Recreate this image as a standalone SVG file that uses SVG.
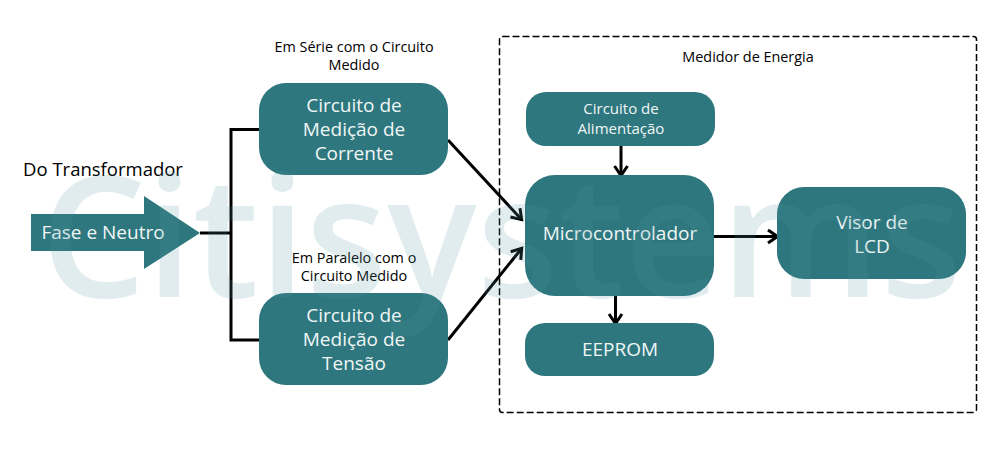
<svg xmlns="http://www.w3.org/2000/svg" width="1000" height="450" viewBox="0 0 1000 450">
<style>
text{font-family:"Open Sans","Noto Sans","Liberation Sans",sans-serif;text-anchor:middle}
.box{fill:#2e777e}
.w{fill:#f0f6f6}
.big{font-size:19px}
.lbl{font-size:14.400px;fill:#000}
.ln{fill:none;stroke:#000;stroke-width:3}
.ar{fill:none;stroke:#000;stroke-width:3;marker-end:url(#a)}
</style>
<defs>
<marker id="a" markerUnits="userSpaceOnUse" markerWidth="18" markerHeight="18" refX="15" refY="9" orient="auto">
<path d="M5 2.5L14.5 9L5 15.5" fill="none" stroke="#000" stroke-width="3"/>
</marker>
</defs>
<rect width="1000" height="450" fill="#fff"/>
<rect id="frame" x="499.500" y="36.500" width="477" height="376" rx="3" fill="none" stroke="#000" stroke-width="1.500" stroke-dasharray="7 3"/>
<g id="connectors">
<path class="ln" d="M200 233H231M260 129.500H231V340H260"/>
<path class="ar" d="M448 140L522 220"/>
<path class="ar" d="M448 340L522 248"/>
<path class="ar" d="M621 146V176"/>
<path class="ar" d="M714 236.500H778"/>
<path class="ar" d="M615.500 295V324"/>
</g>
<g id="transformador"><text x="103" y="176" font-size="18.500" fill="#000">Do Transformador</text></g>
<g id="fase"><path class="box" d="M31 214H144V196L200 233L144 269V251H31Z"/><text class="w" x="103" y="239" font-size="19">Fase e Neutro</text></g>
<g id="corrente"><rect class="box" x="259" y="83" width="189" height="92" rx="27"/>
<text class="w big" x="354" y="112">Circuito de</text><text class="w big" x="354" y="136">Medição de</text><text class="w big" x="354" y="160">Corrente</text></g>
<g id="tensao"><rect class="box" x="259" y="293" width="189" height="92" rx="27"/>
<text class="w big" x="354" y="322">Circuito de</text><text class="w big" x="354" y="346">Medição de</text><text class="w big" x="354" y="370">Tensão</text></g>
<g id="serie"><text class="lbl" x="354" y="52">Em Série com o Circuito</text><text class="lbl" x="354" y="70">Medido</text></g>
<g id="paralelo"><text class="lbl" x="354" y="263">Em Paralelo com o</text><text class="lbl" x="354" y="281">Circuito Medido</text></g>
<g id="medidor"><text class="lbl" x="748" y="62">Medidor de Energia</text></g>
<g id="alimentacao"><rect class="box" x="526" y="92" width="189" height="54" rx="20"/>
<text class="w" x="621" y="114" font-size="15">Circuito de</text><text class="w" x="621" y="134" font-size="15">Alimentação</text></g>
<g id="micro"><rect class="box" x="525" y="175" width="189" height="121" rx="30"/><text class="w big" x="620" y="240">Microcontrolador</text></g>
<g id="eeprom"><rect class="box" x="525" y="323" width="189" height="53" rx="20"/><text class="w big" x="620" y="356">EEPROM</text></g>
<g id="visor"><rect class="box" x="777" y="187" width="189" height="92" rx="27"/>
<text class="w big" x="872" y="229">Visor de</text><text class="w big" x="872" y="253">LCD</text></g>
<text x="501" y="297" font-size="168" font-weight="600" fill="#5396a1" fill-opacity=".18" textLength="922" lengthAdjust="spacingAndGlyphs">Citisystems</text>
</svg>
